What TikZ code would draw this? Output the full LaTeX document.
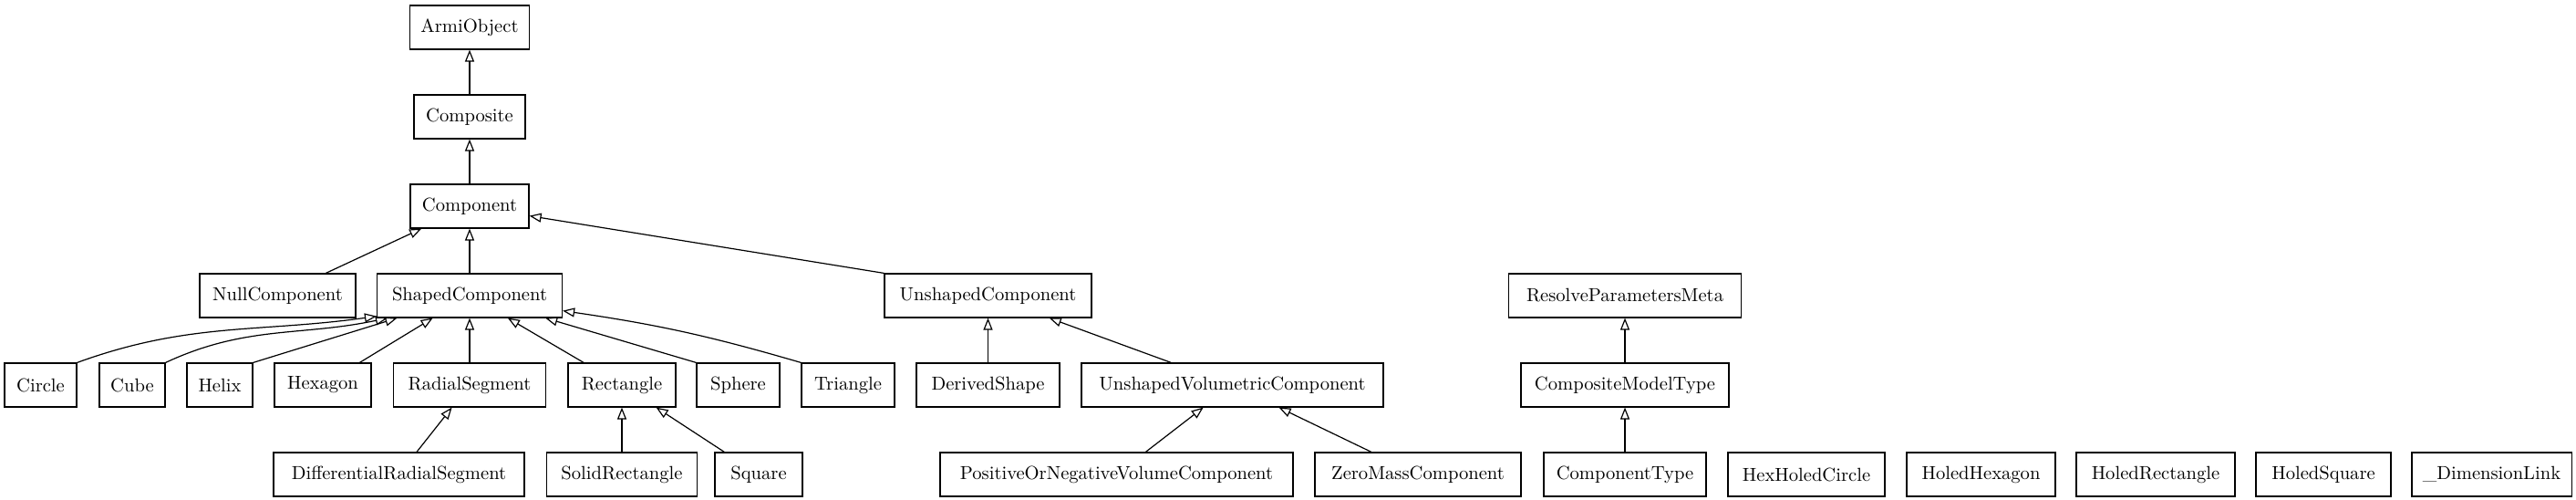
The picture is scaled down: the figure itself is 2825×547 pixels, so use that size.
\documentclass[tikz,border=0pt]{standalone}
\usetikzlibrary{arrows.meta}

\begin{document}
\begin{tikzpicture}[
    x=0.5pt,
    y=-0.5pt,
    line width=0.6pt,
    cls/.style={draw, rectangle, minimum height=24pt, inner xsep=6pt,
      font=\fontsize{10.3}{12}\selectfont},
    inh/.style={-{Triangle[open, length=6.5pt, width=5pt]}}
  ]
  \useasboundingbox (0,0) rectangle (2825,547);
  \node (armi) [cls, minimum width=65pt] at (515,30) {ArmiObject};
  \node (compos) [cls, minimum width=61pt] at (515,128) {Composite};
  \node (comp) [cls, minimum width=65pt] at (515,226) {Component};
  \node (nullc) [cls, minimum width=85.5pt] at (304.5,324) {NullComponent};
  \node (shaped) [cls, minimum width=101.5pt] at (515,324) {ShapedComponent};
  \node (unshaped) [cls, minimum width=113.5pt] at (1083.5,324) {UnshapedComponent};
  \node (meta) [cls, minimum width=127.5pt] at (1782,324) {ResolveParametersMeta};
  \node (circ) [cls, minimum width=39.5pt] at (44.5,422) {Circle};
  \node (cube) [cls, minimum width=36pt] at (145,422) {Cube};
  \node (helix) [cls, minimum width=36pt] at (241,422) {Helix};
  \node (hexa) [cls, minimum width=53pt] at (354,422) {Hexagon};
  \node (radial) [cls, minimum width=83.5pt] at (515,422) {RadialSegment};
  \node (rect) [cls, minimum width=59pt] at (682,422) {Rectangle};
  \node (sphere) [cls, minimum width=45.5pt] at (809.5,422) {Sphere};
  \node (tri) [cls, minimum width=51pt] at (930,422) {Triangle};
  \node (derived) [cls, minimum width=78.5pt] at (1083.5,422) {DerivedShape};
  \node (unvol) [cls, minimum width=165.5pt] at (1351.5,422) {UnshapedVolumetricComponent};
  \node (cmtype) [cls, minimum width=114pt] at (1782,422) {CompositeModelType};
  \node (diffrad) [cls, minimum width=137.5pt] at (437.5,520) {DifferentialRadialSegment};
  \node (solid) [cls, minimum width=82.5pt] at (682,520) {SolidRectangle};
  \node (square) [cls, minimum width=48pt] at (832,520) {Square};
  \node (posneg) [cls, minimum width=193.5pt] at (1224.5,520) {PositiveOrNegativeVolumeComponent};
  \node (zeromass) [cls, minimum width=113pt] at (1555,520) {ZeroMassComponent};
  \node (ctype) [cls, minimum width=89pt] at (1782,520) {ComponentType};
  \node (hexholed) [cls, minimum width=86pt] at (1981,520) {HexHoledCircle};
  \node (holhex) [cls, minimum width=81.5pt] at (2172.5,520) {HoledHexagon};
  \node (holrect) [cls, minimum width=87pt] at (2364,520) {HoledRectangle};
  \node (holsq) [cls, minimum width=74pt] at (2548,520) {HoledSquare};
  \node (dimlink) [cls, minimum width=87.5pt] at (2732.5,520) {\_DimensionLink};

  \draw[inh] (compos) -- (armi);
  \draw[inh] (comp) -- (compos);
  \draw[inh] (nullc) -- (comp);
  \draw[inh] (shaped) -- (comp);
  \draw[inh] (unshaped.north west) -- (comp);
  \draw[inh] (circ.north east) to[out=20, in=188] ([yshift=1pt]shaped.south west);
  \draw[inh] (cube.north east) to[out=25, in=192] ([xshift=6pt]shaped.south west);
  \draw[inh] (helix.north east) -- (shaped);
  \draw[inh] (hexa) -- (shaped);
  \draw[inh] (radial) -- (shaped);
  \draw[inh] (rect) -- (shaped);
  \draw[inh] (sphere.north west) -- (shaped);
  \draw[inh] (tri.north west) to[bend right=4] ([yshift=4pt]shaped.south east);
  \draw[inh] (diffrad) -- (radial);
  \draw[inh] (solid) -- (rect);
  \draw[inh] (square) -- (rect);
  \draw[inh] (derived) -- (unshaped);
  \draw[inh] (unvol) -- (unshaped);
  \draw[inh] (posneg) -- (unvol);
  \draw[inh] (zeromass) -- (unvol);
  \draw[inh] (cmtype) -- (meta);
  \draw[inh] (ctype) -- (cmtype);
\end{tikzpicture}
\end{document}
